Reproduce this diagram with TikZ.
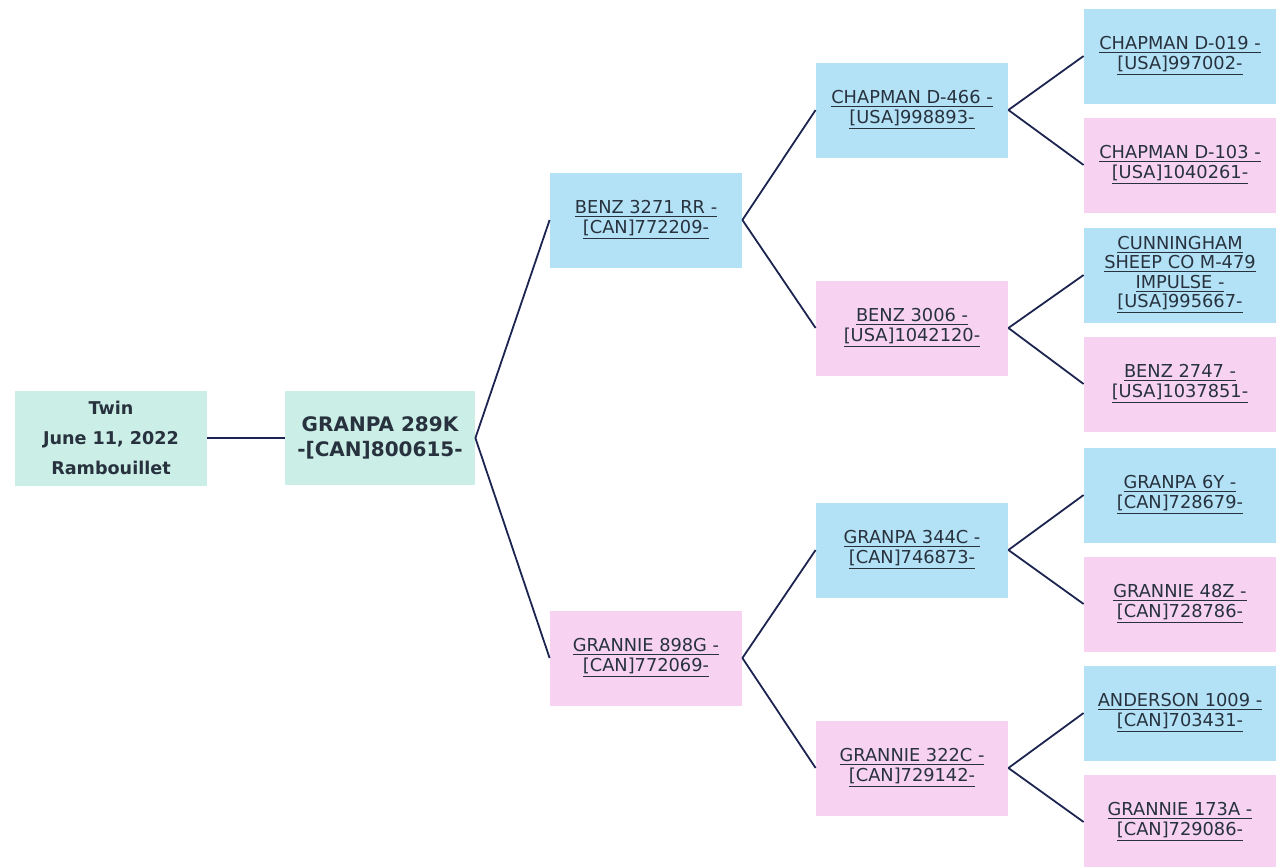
\documentclass[tikz,border=0pt]{standalone}
\usepackage{fontspec}
\setmainfont{DejaVu Sans}
\definecolor{lambteal}{HTML}{CBEEE6}
\definecolor{ramblue}{HTML}{B3E2F6}
\definecolor{ewepink}{HTML}{F7D3F1}
\definecolor{navy}{HTML}{1C2450}
\definecolor{inktext}{HTML}{27323E}
\newcommand{\pl}[1]{\underline{#1}}
\tikzstyle{lamb} = [rectangle, minimum width=96pt, minimum height=47.5pt, text centered, align=center, fill=lambteal, text=inktext, font=\fontsize{8.8}{15}\selectfont\bfseries]
\tikzstyle{sire} = [rectangle, minimum width=95pt, minimum height=47pt, text centered, align=center, fill=lambteal, text=inktext, font=\fontsize{10}{12.5}\selectfont\bfseries]
\tikzstyle{ram} = [rectangle, minimum width=96pt, minimum height=47.5pt, inner sep=1pt, text centered, align=center, fill=ramblue, text=inktext, font=\fontsize{8.9}{9.6}\selectfont]
\tikzstyle{ewe} = [ram, fill=ewepink]
\tikzstyle{link} = [line width=0.9pt, draw=navy]

\begin{document}
\begin{tikzpicture}[x=0.5pt, y=-0.5pt]
            \useasboundingbox (0,0) rectangle (1276,867);
            \node [lamb] at (111,438) (lamb) {Twin\\June 11, 2022\\Rambouillet};
            \node [sire] at (380,438) (sire) {GRANPA 289K\\-[CAN]800615-};
            \node [ram] at (646,220) (s) {\pl{BENZ 3271 RR -}\\\pl{[CAN]772209-}};
            \node [ewe] at (646,658) (d) {\pl{GRANNIE 898G -}\\\pl{[CAN]772069-}};
            \node [ram] at (912,110) (ss) {\pl{CHAPMAN D-466 -}\\\pl{[USA]998893-}};
            \node [ewe] at (912,328) (sd) {\pl{BENZ 3006 -}\\\pl{[USA]1042120-}};
            \node [ram] at (912,550) (ds) {\pl{GRANPA 344C -}\\\pl{[CAN]746873-}};
            \node [ewe] at (912,768) (dd) {\pl{GRANNIE 322C -}\\\pl{[CAN]729142-}};
            \node [ram] at (1180,56) (sss) {\pl{CHAPMAN D-019 -}\\\pl{[USA]997002-}};
            \node [ewe] at (1180,165) (ssd) {\pl{CHAPMAN D-103 -}\\\pl{[USA]1040261-}};
            \node [ram] at (1180,275) (sds) {\pl{CUNNINGHAM}\\\pl{SHEEP CO M-479}\\\pl{IMPULSE -}\\\pl{[USA]995667-}};
            \node [ewe] at (1180,384) (sdd) {\pl{BENZ 2747 -}\\\pl{[USA]1037851-}};
            \node [ram] at (1180,495) (dss) {\pl{GRANPA 6Y -}\\\pl{[CAN]728679-}};
            \node [ewe] at (1180,604) (dsd) {\pl{GRANNIE 48Z -}\\\pl{[CAN]728786-}};
            \node [ram] at (1180,713) (dds) {\pl{ANDERSON 1009 -}\\\pl{[CAN]703431-}};
            \node [ewe] at (1180,822) (ddd) {\pl{GRANNIE 173A -}\\\pl{[CAN]729086-}};
            \draw [link] (lamb) -- (sire);
            \draw [link] (sire.east) -- (s.west);
            \draw [link] (sire.east) -- (d.west);
            \draw [link] (s.east) -- (ss.west);
            \draw [link] (s.east) -- (sd.west);
            \draw [link] (d.east) -- (ds.west);
            \draw [link] (d.east) -- (dd.west);
            \draw [link] (ss.east) -- (sss.west);
            \draw [link] (ss.east) -- (ssd.west);
            \draw [link] (sd.east) -- (sds.west);
            \draw [link] (sd.east) -- (sdd.west);
            \draw [link] (ds.east) -- (dss.west);
            \draw [link] (ds.east) -- (dsd.west);
            \draw [link] (dd.east) -- (dds.west);
            \draw [link] (dd.east) -- (ddd.west);
            \end{tikzpicture}
\end{document}
